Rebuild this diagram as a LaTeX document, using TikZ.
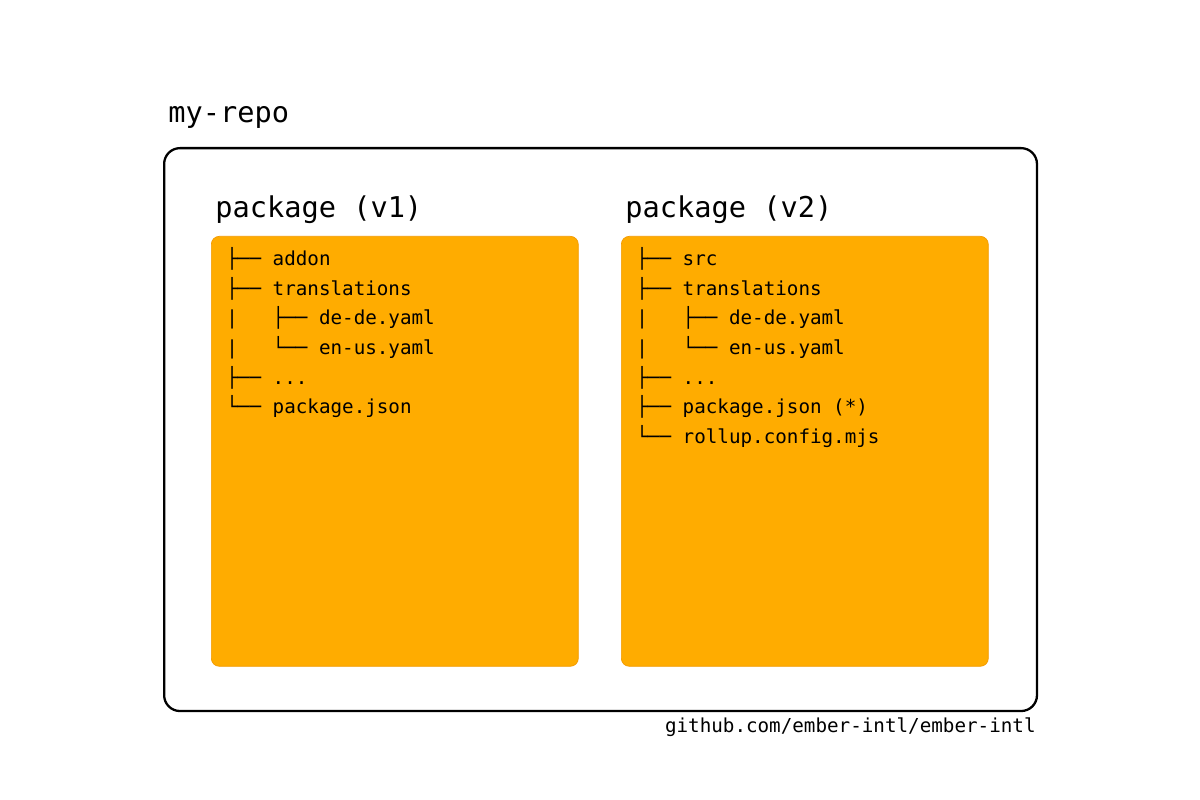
\documentclass[tikz,border=0pt]{standalone}
\usepackage{fontspec}
\newfontfamily\codefont{DejaVu Sans Mono}
\definecolor{pkgfill}{HTML}{FFAC00}
\definecolor{pkgedge}{HTML}{F39A00}
\newcommand{\treedots}{...}

\begin{document}
\begin{tikzpicture}[x=0.02cm,y=-0.02cm]
        \tikzstyle{every node}=[inner sep=0pt, font=\codefont]
        \tikzstyle{title}=[anchor=base west, font=\codefont\fontsize{16.3}{20}\selectfont]
        \tikzstyle{entry}=[anchor=base west, font=\codefont\fontsize{10.95}{14}\selectfont]
        \tikzstyle{pkg}=[draw=pkgedge, fill=pkgfill, rounded corners=4.5pt, anchor=north west,
            minimum width=7.34cm, minimum height=8.6cm]
        \useasboundingbox (0,0) rectangle (1200,800);

        \node[title] (repolabel) at (168,123) {my-repo};
        \node[draw, line width=1.3pt, rounded corners=9pt, anchor=north west,
            minimum width=17.46cm, minimum height=11.26cm] (repo) at (163,147) {};

        \node[title] (v1label) at (215,218) {package (v1)};
        \node[pkg] (v1) at (211,236) {};
        \foreach \line [count=\i] in {├── addon, ├── translations, |\ \ \ ├── de-de.yaml,
            |\ \ \ └── en-us.yaml, ├── \treedots, └── package.json}
            \node[entry] (v1-\i) at (226,{266+29.5*(\i-1)}) {\line};

        \node[title] (v2label) at (625,218) {package (v2)};
        \node[pkg] (v2) at (621,236) {};
        \foreach \line [count=\i] in {├── src, ├── translations, |\ \ \ ├── de-de.yaml,
            |\ \ \ └── en-us.yaml, ├── \treedots, ├── package.json (*), └── rollup.config.mjs}
            \node[entry] (v2-\i) at (636,{266+29.5*(\i-1)}) {\line};

        \node[entry, anchor=base east] (source) at (1036,732) {github.com/ember-intl/ember-intl};
\end{tikzpicture}
\end{document}
